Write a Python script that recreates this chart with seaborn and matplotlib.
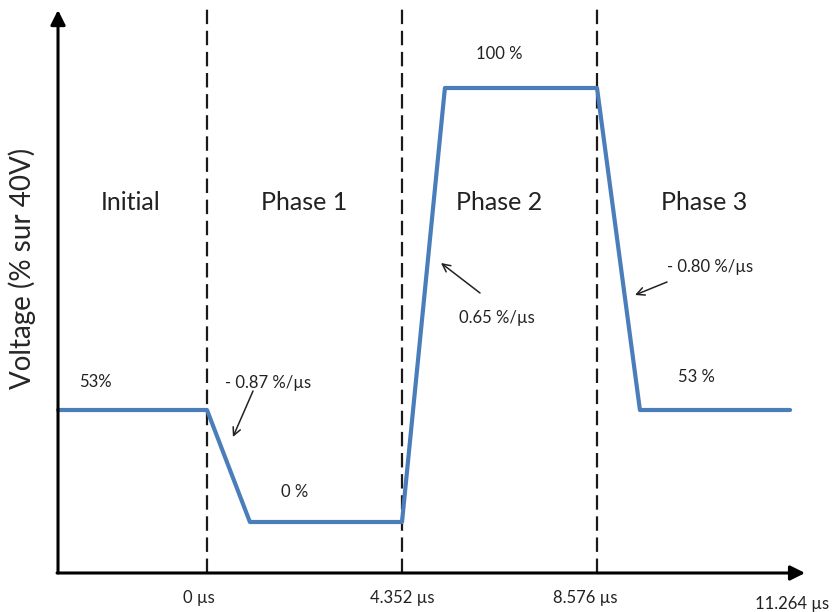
import numpy as np
import matplotlib
matplotlib.use('Agg')
import matplotlib.pyplot as plt
import seaborn as sns

# Schematic: each phase is one unit wide, heights are display levels (not to scale)
phases = ['Initial', 'Phase 1', 'Phase 2', 'Phase 3']
phase_x = [-0.39, 0.50, 1.50, 2.55]
bounds = [0, 1, 2]
bound_labels = ['0 µs', '4.352 µs', '8.576 µs', '11.264 µs']
bound_label_x = [-0.04, 1.0, 1.94, 3.0]

time_pts = [-0.764, 0, 0.22, 1.0, 1.22, 2.0, 2.22, 2.99]
level = [1.63, 1.63, 0.51, 0.51, 4.85, 4.85, 1.63, 1.63]

level_labels = ['53%', '0 %', '100 %', '53 %']
level_label_x = [-0.57, 0.45, 1.50, 2.51]
level_label_y = [1.91, 0.81, 5.19, 1.96]

slopes = ['- 0.87 %/µs', '0.65 %/µs', '- 0.80 %/µs']
slope_text = [(0.313, 1.90), (1.487, 2.55), (2.579, 3.06)]
slope_tail = [(0.236, 1.82), (1.40, 2.80), (2.359, 2.91)]
slope_head = [(0.133, 1.36), (1.20, 3.10), (2.195, 2.78)]

sns.set_style('white')
plt.rcParams['font.family'] = ['Lato', 'DejaVu Sans']

fig = plt.figure(figsize=(8.32, 6.12), dpi=100)
ax = fig.add_axes([0, 0, 1, 1])
ax.set_xlim(-1.0615, 3.205)
ax.set_ylim(-0.39, 5.73)
ax.axis('off')

# phase boundaries
for b in bounds:
    ax.plot([b, b], [0, 5.65], color='#1a1a1a', lw=1.6, dashes=(6.5, 3), zorder=1)

sns.lineplot(x=time_pts, y=level, estimator=None, sort=False, color='#4a7ebb',
             lw=3, ax=ax, zorder=3)

# axes with arrows
x0 = time_pts[0]
ax.annotate('', xy=(x0, 5.63), xytext=(x0, 0), zorder=4,
            arrowprops=dict(arrowstyle='-|>', lw=2.2, color='black', mutation_scale=22, shrinkA=0, shrinkB=0))
ax.annotate('', xy=(3.067, 0), xytext=(x0 - 0.005, 0), zorder=4,
            arrowprops=dict(arrowstyle='-|>', lw=2.2, color='black', mutation_scale=22, shrinkA=0, shrinkB=0))

ax.text(-0.95, 3.05, 'Voltage (% sur 40V)', rotation=90, ha='center', va='center', fontsize=20)

for name, x in zip(phases, phase_x):
    ax.text(x, 3.70, name, ha='center', va='center', fontsize=18, color='#222222')

for lab, x, y in zip(level_labels, level_label_x, level_label_y):
    ax.text(x, y, lab, ha='center', va='center', fontsize=12, color='#222222')

for lab, t, tail, head in zip(slopes, slope_text, slope_tail, slope_head):
    ax.text(t[0], t[1], lab, ha='center', va='center', fontsize=12, color='#222222')
    ax.annotate('', xy=head, xytext=tail,
                arrowprops=dict(arrowstyle='->', lw=1.1, color='#222222', mutation_scale=14, shrinkA=0, shrinkB=0))

for i, (lab, x) in enumerate(zip(bound_labels, bound_label_x)):
    y = -0.31 if i == 3 else -0.25
    ax.text(x, y, lab, ha='center', va='center', fontsize=12, color='#222222')

plt.savefig('out.png', dpi=100)
